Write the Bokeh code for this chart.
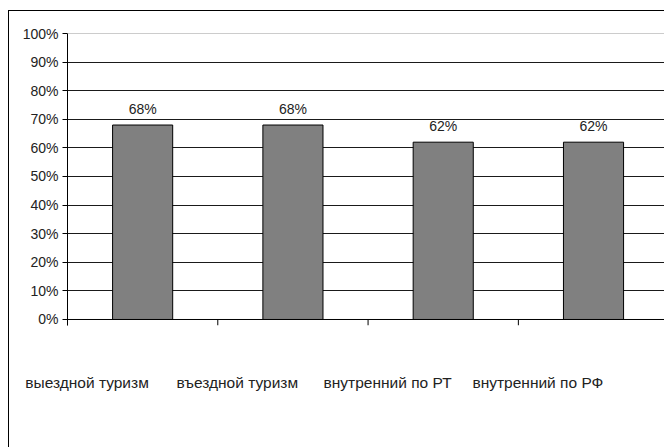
from math import pi
from bokeh.plotting import figure
from bokeh.models import (Range1d, FixedTicker, NumeralTickFormatter,
                          Span, ColumnDataSource)
from bokeh.core.properties import value
from bokeh.embed import file_html
from bokeh.resources import INLINE

# Shares of respondents by type of tourism
categories = ["выездной туризм", "въездной туризм", "внутренний по РТ", "внутренний по РФ"]
shares = [0.68, 0.68, 0.62, 0.62]
share_labels = ["68%", "68%", "62%", "62%"]
y_ticks = [0.0, 0.1, 0.2, 0.3, 0.4, 0.5, 0.6, 0.7, 0.8, 0.9, 1.0]

FONT = "Liberation Sans"
n = len(categories)
centers = [i + 0.5 for i in range(n)]
boundaries = list(range(n))
label_pos = [i + 0.13 for i in range(n)]

p = figure(width=656, height=437, output_backend="svg", toolbar_location=None,
           x_range=Range1d(0, 3.979), y_range=Range1d(-0.021, 1.0),
           min_border_left=58, min_border_right=0, min_border_top=22,
           min_border_bottom=123)
# chart border on the left and top edges
p.styles = {"margin-left": "8px", "margin-top": "10px",
            "border-left": "1px solid #000000", "border-top": "1px solid #000000"}
p.outline_line_color = None
p.background_fill_color = "white"
p.border_fill_color = "white"

# horizontal grid
p.xgrid.visible = False
p.ygrid.ticker = FixedTicker(ticks=y_ticks[1:-1])
p.ygrid.grid_line_color = "#1a1a1a"
p.ygrid.grid_line_width = 1
p.add_layout(Span(location=1.0, dimension="width", line_color="#999999", line_width=1))

src = ColumnDataSource(dict(x=centers, top=shares, lab=share_labels))
p.vbar(x="x", top="top", width=0.4, bottom=0, source=src,
       fill_color="#808080", line_color="#000000", line_width=1)
p.text(x="x", y="top", text="lab", source=src, text_align="center",
       text_baseline="bottom", y_offset=-8, text_font=value(FONT),
       text_font_size="14px", text_color="#222222")

# category axis line at zero with downward tick marks on category boundaries
p.add_layout(Span(location=0.0, dimension="width", line_color="#000000", line_width=1))
p.ray(x=boundaries, y=[0.0] * n, length=6, length_units="screen", angle=-pi / 2,
      line_color="#000000", line_width=1)

# y axis
p.yaxis.ticker = FixedTicker(ticks=y_ticks)
p.yaxis.formatter = NumeralTickFormatter(format="0%")
p.yaxis.axis_line_color = "#000000"
p.yaxis.major_tick_line_color = "#000000"
p.yaxis.major_tick_out = 5
p.yaxis.major_tick_in = 0
p.yaxis.minor_tick_line_color = None
p.yaxis.major_label_standoff = 4
p.yaxis.major_label_text_font = FONT
p.yaxis.major_label_text_font_size = "14px"
p.yaxis.major_label_text_color = "#222222"

# category names below the chart
p.xaxis.ticker = FixedTicker(ticks=label_pos)
p.xaxis.major_label_overrides = {pos: c for pos, c in zip(label_pos, categories)}
p.xaxis.axis_line_color = None
p.xaxis.major_tick_line_color = None
p.xaxis.minor_tick_line_color = None
p.xaxis.major_label_standoff = 42
p.xaxis.major_label_text_font = FONT
p.xaxis.major_label_text_font_size = "15.5px"
p.xaxis.major_label_text_color = "#222222"

open("out.html", "w").write(file_html(p, INLINE))
